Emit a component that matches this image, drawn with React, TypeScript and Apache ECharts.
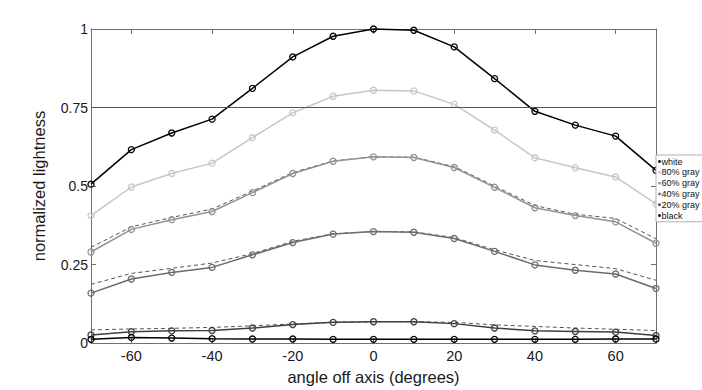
import React, { useEffect, useRef } from "react";
import * as echarts from "echarts";

const angles = [-70, -60, -50, -40, -30, -20, -10, 0, 10, 20, 30, 40, 50, 60, 70];
const xTickLabels = [-60, -40, -20, 0, 20, 40, 60];
const seriesNames = ["white", "80% gray", "60% gray", "40% gray", "20% gray", "black"];
const white = [0.506, 0.616, 0.669, 0.713, 0.811, 0.911, 0.977, 1.0, 0.996, 0.943, 0.842, 0.738, 0.694, 0.659, 0.55];
const gray80 = [0.406, 0.497, 0.54, 0.573, 0.654, 0.733, 0.786, 0.805, 0.803, 0.76, 0.678, 0.59, 0.558, 0.529, 0.443];
const gray60 = [0.29, 0.362, 0.393, 0.419, 0.479, 0.54, 0.579, 0.593, 0.591, 0.559, 0.496, 0.431, 0.406, 0.386, 0.318];
const gray40 = [0.159, 0.204, 0.225, 0.241, 0.281, 0.32, 0.347, 0.355, 0.353, 0.333, 0.292, 0.249, 0.232, 0.22, 0.174];
const gray20 = [0.026, 0.036, 0.039, 0.04, 0.048, 0.059, 0.066, 0.068, 0.068, 0.062, 0.048, 0.039, 0.037, 0.035, 0.024];
const black = [0.012, 0.018, 0.016, 0.014, 0.013, 0.013, 0.012, 0.012, 0.012, 0.012, 0.012, 0.012, 0.012, 0.013, 0.013];
const ref60 = [0.305, 0.37, 0.4, 0.427, 0.484, 0.543, 0.58, 0.593, 0.592, 0.562, 0.5, 0.438, 0.41, 0.397, 0.332];
const ref40 = [0.187, 0.222, 0.238, 0.255, 0.285, 0.324, 0.348, 0.355, 0.354, 0.336, 0.297, 0.263, 0.25, 0.237, 0.2];
const ref20 = [0.042, 0.045, 0.047, 0.05, 0.055, 0.061, 0.066, 0.068, 0.068, 0.066, 0.058, 0.053, 0.048, 0.044, 0.04];
const referenceLevel = 0.75;

const seriesData = [white, gray80, gray60, gray40, gray20, black];
const seriesColors = ["#000000", "#c6c6c6", "#939393", "#6b6b6b", "#3e3e3e", "#000000"];
const refData = [ref60, ref40, ref20];

const FONT = "'Liberation Sans', Arial, Helvetica, sans-serif";
const AXIS_COLOR = "#707070";

export default function App() {
  const ref = useRef<HTMLDivElement>(null);
  useEffect(() => {
    if (!ref.current) return;
    const chart = echarts.init(ref.current, undefined, { renderer: "svg" });
    const pair = (arr: number[]) => angles.map((a, i) => [a, arr[i]]);

    const dashed = refData.map((d) => ({
      type: "line",
      data: pair(d),
      showSymbol: false,
      symbol: "none",
      lineStyle: { color: "#555", width: 1, type: [4, 3] },
      z: 2,
      silent: true,
    }));

    const main = seriesData.map((d, i) => ({
      name: seriesNames[i],
      type: "line",
      data: pair(d),
      symbol: "circle",
      symbolSize: 6,
      itemStyle: { color: "rgba(255,255,255,0)", borderColor: seriesColors[i], borderWidth: 1.3 },
      lineStyle: { color: seriesColors[i], width: 1.5 },
      z: 3,
      silent: true,
      clip: false,
      ...(i === 0
        ? {
            markLine: {
              silent: true,
              symbol: "none",
              label: { show: false },
              lineStyle: { color: "#555", width: 1, type: "solid" },
              data: [{ yAxis: referenceLevel }],
            },
          }
        : {}),
    }));

    const legendTop = 155;
    const rowH = 10.8;
    const legendGraphics: any[] = [
      {
        type: "rect",
        shape: { x: 656, y: legendTop, width: 60, height: rowH * seriesNames.length + 2 },
        style: { fill: "#fff", stroke: "#b0b0b0", lineWidth: 1 },
        z: 10,
      },
    ];
    seriesNames.forEach((n, i) => {
      const cy = legendTop + 6.5 + i * rowH;
      legendGraphics.push({
        type: "circle",
        shape: { cx: 659.5, cy, r: 1.4 },
        style: { fill: seriesColors[i] },
        z: 11,
      });
      legendGraphics.push({
        type: "text",
        x: 661.5,
        y: cy,
        style: { text: n, fontSize: 9, fontFamily: FONT, fill: "#111", textVerticalAlign: "middle" },
        z: 11,
      });
    });

    const frameLine = { show: true, onZero: false, lineStyle: { color: AXIS_COLOR, width: 1 } };

    chart.setOption({
      animation: false,
      backgroundColor: "#fff",
      textStyle: { fontFamily: FONT },
      grid: { left: 91, right: 46, top: 29, bottom: 44, containLabel: false },
      xAxis: [
        {
          type: "value",
          min: -70,
          max: 70,
          interval: 10,
          position: "bottom",
          name: "angle off axis (degrees)",
          nameLocation: "middle",
          nameGap: 21,
          nameTextStyle: { fontSize: 16.5, color: "#1a1a1a", fontFamily: FONT },
          axisLine: frameLine,
          axisTick: { show: true, inside: true, length: 5, customValues: xTickLabels, lineStyle: { color: AXIS_COLOR } },
          axisLabel: { show: true, customValues: xTickLabels, fontSize: 14.5, color: "#1a1a1a", margin: 5, fontFamily: FONT },
          splitLine: { show: false },
        },
        {
          type: "value",
          min: -70,
          max: 70,
          interval: 10,
          position: "top",
          axisLine: frameLine,
          axisTick: { show: true, inside: true, length: 5, customValues: xTickLabels, lineStyle: { color: AXIS_COLOR } },
          axisLabel: { show: false },
          splitLine: { show: false },
        },
      ],
      yAxis: [
        {
          type: "value",
          min: 0,
          max: 1,
          interval: 0.25,
          position: "left",
          name: "normalized lightness",
          nameLocation: "middle",
          nameGap: 44,
          nameTextStyle: { fontSize: 16.5, color: "#1a1a1a", fontFamily: FONT },
          axisLine: frameLine,
          axisTick: { show: true, inside: true, length: 5, lineStyle: { color: AXIS_COLOR } },
          axisLabel: { fontSize: 14, color: "#1a1a1a", margin: 3, fontFamily: FONT },
          splitLine: { show: false },
        },
        {
          type: "value",
          min: 0,
          max: 1,
          interval: 0.25,
          position: "right",
          axisLine: frameLine,
          axisTick: { show: true, inside: true, length: 5, lineStyle: { color: AXIS_COLOR } },
          axisLabel: { show: false },
          splitLine: { show: false },
        },
      ],
      series: [...dashed, ...main],
      graphic: legendGraphics,
    });
    return () => chart.dispose();
  }, []);
  return <div ref={ref} style={{ width: 702, height: 390, position: "absolute", left: 0, top: 0 }} />;
}
